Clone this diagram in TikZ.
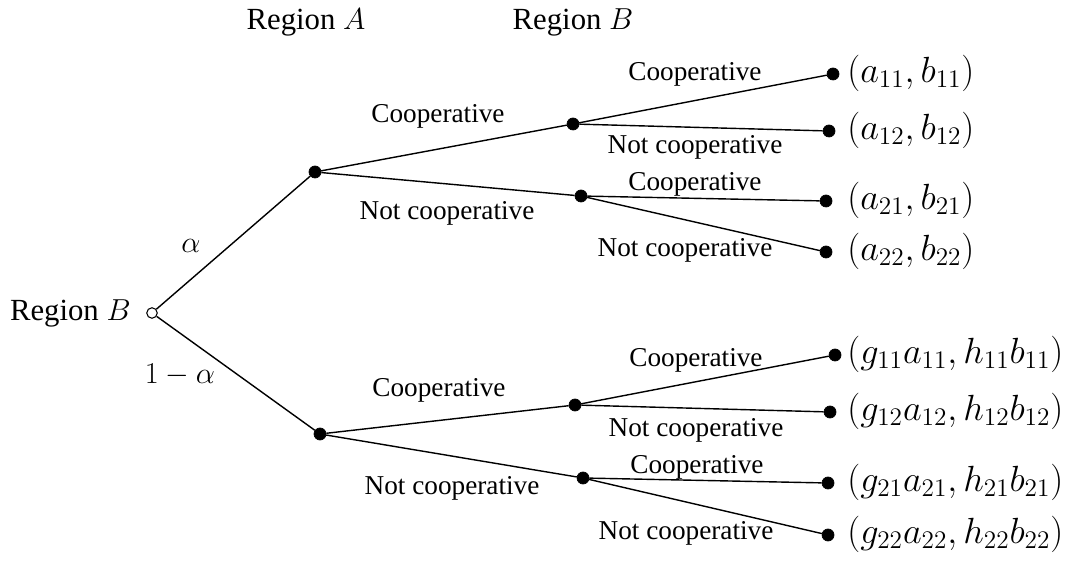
\documentclass[tikz,border=0pt]{standalone}
\usepackage{fontspec}
\setmainfont{Liberation Serif}
\usepackage{amsmath}
\usetikzlibrary{positioning}

\tikzset{
  fulldot/.style={circle, fill=black, draw=black, inner sep=0pt, minimum size=0.24cm},
  opendot/.style={circle, fill=white, draw=black, line width=0.6pt, inner sep=0pt, minimum size=0.21cm},
  branch/.style={line width=0.8pt},
  choice/.style={font=\fontsize{15.5}{18}\selectfont, inner sep=0pt},
  payoff/.style={font=\fontsize{20.5}{24}\selectfont, anchor=west, inner sep=0pt},
  region/.style={font=\fontsize{17.5}{20}\selectfont, inner sep=0pt}
}

\begin{document}
\begin{tikzpicture}[x=0.02cm, y=-0.02cm]

    % --- 1. RAHMEN ---
    \useasboundingbox (0,0) rectangle (1075,563);

    % --- 2. KNOTEN ---
    \node[opendot] (root) at (152,313) {};
    \node[region, anchor=east] (rootlbl) at (131,313) {Region $B$};

    \node[fulldot] (aup) at (315,172) {};
    \node[fulldot] (alo) at (320,434) {};

    \node[fulldot] (bup1) at (573,124) {};
    \node[fulldot] (bup2) at (581,196) {};
    \node[fulldot] (blo1) at (575,405) {};
    \node[fulldot] (blo2) at (583,478) {};

    % Endknoten mit Auszahlungen
    \node[fulldot] (l1) at (833,74) {};
    \node[fulldot] (l2) at (829,131) {};
    \node[fulldot] (l3) at (826,201) {};
    \node[fulldot] (l4) at (826,252) {};
    \node[fulldot] (l5) at (835,355) {};
    \node[fulldot] (l6) at (830,412) {};
    \node[fulldot] (l7) at (828,483) {};
    \node[fulldot] (l8) at (828,535) {};

    \node[payoff] (p1) at (847,73)  {$(a_{11},b_{11})$};
    \node[payoff] (p2) at (847,130) {$(a_{12},b_{12})$};
    \node[payoff] (p3) at (847,200) {$(a_{21},b_{21})$};
    \node[payoff] (p4) at (847,251) {$(a_{22},b_{22})$};
    \node[payoff] (p5) at (847,354) {$(g_{11}a_{11},h_{11}b_{11})$};
    \node[payoff] (p6) at (847,411) {$(g_{12}a_{12},h_{12}b_{12})$};
    \node[payoff] (p7) at (847,482) {$(g_{21}a_{21},h_{21}b_{21})$};
    \node[payoff] (p8) at (847,534) {$(g_{22}a_{22},h_{22}b_{22})$};

    % --- 3. ÄSTE ---
    \draw[branch] (root) -- (aup);
    \draw[branch] (root) -- (alo);
    \draw[branch] (aup) -- (bup1);
    \draw[branch] (aup) -- (bup2);
    \draw[branch] (alo) -- (blo1);
    \draw[branch] (alo) -- (blo2);
    \draw[branch] (bup1) -- (l1);
    \draw[branch] (bup1) -- (l2);
    \draw[branch] (bup2) -- (l3);
    \draw[branch] (bup2) -- (l4);
    \draw[branch] (blo1) -- (l5);
    \draw[branch] (blo1) -- (l6);
    \draw[branch] (blo2) -- (l7);
    \draw[branch] (blo2) -- (l8);

    % --- 4. BESCHRIFTUNG ---
    \node[region] (hdA) at (306,22) {Region $A$};
    \node[region] (hdB) at (573,22) {Region $B$};

    \node[region] (alpha) at (191,246) {$\alpha$};
    \node[region] (oneminus) at (180,375) {$1-\alpha$};

    % obere Hälfte
    \node[choice] (cA1) at (438,116) {Cooperative};
    \node[choice] (nA1) at (447,213) {Not cooperative};
    \node[choice] (cB1) at (695,74)  {Cooperative};
    \node[choice] (nB1) at (695,147) {Not cooperative};
    \node[choice] (cB2) at (695,184) {Cooperative};
    \node[choice] (nB2) at (685,250) {Not cooperative};

    % untere Hälfte
    \node[choice] (cA2) at (439,390) {Cooperative};
    \node[choice] (nA2) at (452,488) {Not cooperative};
    \node[choice] (cB3) at (696,360) {Cooperative};
    \node[choice] (nB3) at (696,430) {Not cooperative};
    \node[choice] (cB4) at (697,467) {Cooperative};
    \node[choice] (nB4) at (686,533) {Not cooperative};

\end{tikzpicture}
\end{document}
